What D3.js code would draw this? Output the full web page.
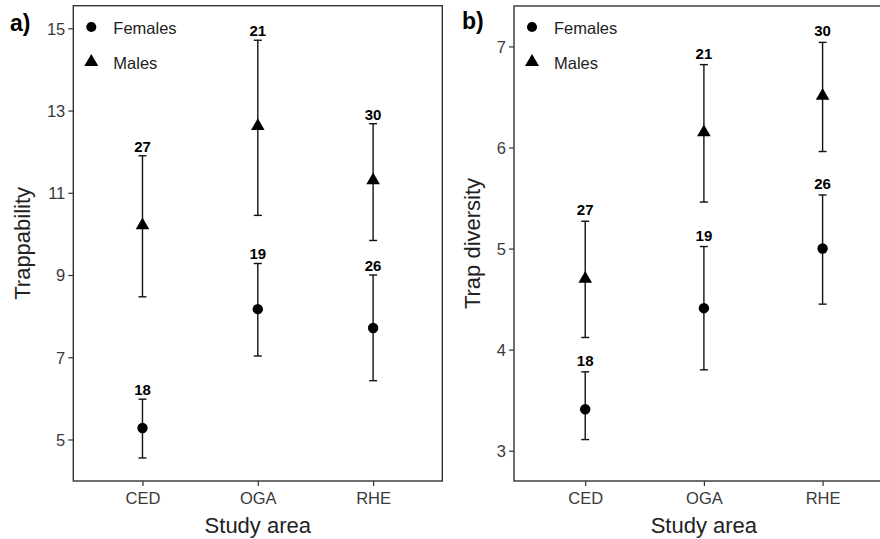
<!DOCTYPE html>
<html>
<head>
<meta charset="utf-8">
<script src="https://cdn.jsdelivr.net/npm/d3@7"></script>
<style>
  body { margin: 0; background: #fff; }
  text { font-family: "Liberation Sans", Arial, sans-serif; }
</style>
</head>
<body>
<div id="chart"></div>
<script>
// study areas on the x axis
const areas = ["CED", "OGA", "RHE"];

// a) trappability: mean and 95% interval
const trapFemales = [5.28, 8.17, 7.71];
const trapFemalesLow = [4.55, 7.03, 6.43];
const trapFemalesHigh = [5.98, 9.28, 9.00];
const trapMales = [10.21, 12.62, 11.30];
const trapMalesLow = [8.47, 10.45, 9.84];
const trapMalesHigh = [11.90, 14.71, 12.68];
const trapTicks = [5, 7, 9, 11, 13, 15];

// b) trap diversity
const divFemales = [3.41, 4.41, 5.00];
const divFemalesLow = [3.11, 3.80, 4.45];
const divFemalesHigh = [3.78, 5.02, 5.53];
const divMales = [4.70, 6.15, 6.51];
const divMalesLow = [4.12, 5.46, 5.96];
const divMalesHigh = [5.27, 6.82, 7.04];
const divTicks = [3, 4, 5, 6, 7];

// sample sizes shown above the bars
const femalesN = [18, 19, 26];
const malesN = [27, 21, 30];

const svg = d3.select("#chart").append("svg")
  .attr("width", 880)
  .attr("height", 539);

function rows(mean, low, high, n, sex) {
  return areas.map((a, i) => ({ area: a, mean: mean[i], low: low[i], high: high[i], n: n[i], sex: sex }));
}

function drawPanel(p) {
  const x = d3.scalePoint().domain(areas).range([p.left, p.right]).padding(0.6);
  const y = d3.scaleLinear().domain(p.domain).range([p.bottom, p.top]);
  const g = svg.append("g");

  // box round the plot
  g.append("rect")
    .attr("x", p.left).attr("y", p.top)
    .attr("width", p.right - p.left).attr("height", p.bottom - p.top)
    .attr("fill", "none").attr("stroke", "#333").attr("stroke-width", 1.4);

  const yAxis = g.append("g")
    .attr("transform", `translate(${p.left},0)`)
    .call(d3.axisLeft(y).tickValues(p.ticks).tickFormat(d3.format("d")).tickSize(5).tickPadding(3));
  const xAxis = g.append("g")
    .attr("transform", `translate(0,${p.bottom})`)
    .call(d3.axisBottom(x).tickSize(5).tickPadding(6));
  [yAxis, xAxis].forEach(ax => {
    ax.select(".domain").remove();
    ax.selectAll(".tick line").attr("stroke", "#333").attr("stroke-width", 1.2);
    ax.selectAll(".tick text").attr("fill", "#3a3a3a").style("font-size", "16.5px")
      .style("font-family", '"Liberation Sans", Arial, sans-serif');
  });
  yAxis.selectAll(".tick text").attr("dy", "0.36em");

  const data = rows(p.fem, p.femLow, p.femHigh, femalesN, "f")
    .concat(rows(p.mal, p.malLow, p.malHigh, malesN, "m"));

  // error bars
  const eb = g.append("g").selectAll("g").data(data).join("g")
    .attr("stroke", "#111").attr("stroke-width", 1.4);
  eb.append("line")
    .attr("x1", d => x(d.area)).attr("x2", d => x(d.area))
    .attr("y1", d => y(d.low)).attr("y2", d => y(d.high));
  eb.append("line")
    .attr("x1", d => x(d.area) - 4).attr("x2", d => x(d.area) + 4)
    .attr("y1", d => y(d.low)).attr("y2", d => y(d.low));
  eb.append("line")
    .attr("x1", d => x(d.area) - 4).attr("x2", d => x(d.area) + 4)
    .attr("y1", d => y(d.high)).attr("y2", d => y(d.high));

  // points
  g.append("g").selectAll("path").data(data).join("path")
    .attr("d", d => d3.symbol(d.sex === "f" ? d3.symbolCircle : d3.symbolTriangle, d.sex === "f" ? 85 : 80)())
    .attr("transform", d => `translate(${x(d.area)},${y(d.mean)})`)
    .attr("fill", "#000");

  // n labels
  g.append("g").selectAll("text").data(data).join("text")
    .attr("x", d => x(d.area))
    .attr("y", d => y(d.high) - p.labelGap)
    .attr("text-anchor", "middle")
    .style("font-size", "15px").style("font-weight", "bold")
    .text(d => d.n);

  // legend
  const lg = g.append("g");
  lg.append("path").attr("d", d3.symbol(d3.symbolCircle, 80)())
    .attr("transform", `translate(${p.left + 18},27)`);
  lg.append("path").attr("d", d3.symbol(d3.symbolTriangle, 85)())
    .attr("transform", `translate(${p.left + 18},62)`);
  lg.append("text").attr("x", p.left + 40).attr("y", 33.5)
    .style("font-size", "16.5px").attr("fill", "#222").text("Females");
  lg.append("text").attr("x", p.left + 40).attr("y", 68.5)
    .style("font-size", "16.5px").attr("fill", "#222").text("Males");

  // titles
  g.append("text")
    .attr("transform", `translate(${p.titleX},${(p.top + p.bottom) / 2}) rotate(-90)`)
    .attr("text-anchor", "middle")
    .style("font-size", "22px").attr("fill", "#222")
    .text(p.yTitle);
  g.append("text")
    .attr("x", x(areas[1]))
    .attr("y", 533)
    .attr("text-anchor", "middle")
    .style("font-size", "22px").attr("fill", "#222")
    .text("Study area");
  g.append("text")
    .attr("x", p.tagX).attr("y", p.tagY)
    .style("font-size", "23px").style("font-weight", "bold")
    .text(p.tag);
}

drawPanel({
  left: 73.3, right: 442.3, top: 5.7, bottom: 481,
  domain: [3.99, 15.55], ticks: trapTicks,
  fem: trapFemales, femLow: trapFemalesLow, femHigh: trapFemalesHigh,
  mal: trapMales, malLow: trapMalesLow, malHigh: trapMalesHigh,
  labelGap: 4, yTitle: "Trappability", titleX: 30,
  tag: "a)", tagX: 10, tagY: 31
});

drawPanel({
  left: 514, right: 893.8, top: 6, bottom: 481,
  domain: [2.70, 7.40], ticks: divTicks,
  fem: divFemales, femLow: divFemalesLow, femHigh: divFemalesHigh,
  mal: divMales, malLow: divMalesLow, malHigh: divMalesHigh,
  labelGap: 6, yTitle: "Trap diversity", titleX: 480,
  tag: "b)", tagX: 462, tagY: 29
});
</script>
</body>
</html>
